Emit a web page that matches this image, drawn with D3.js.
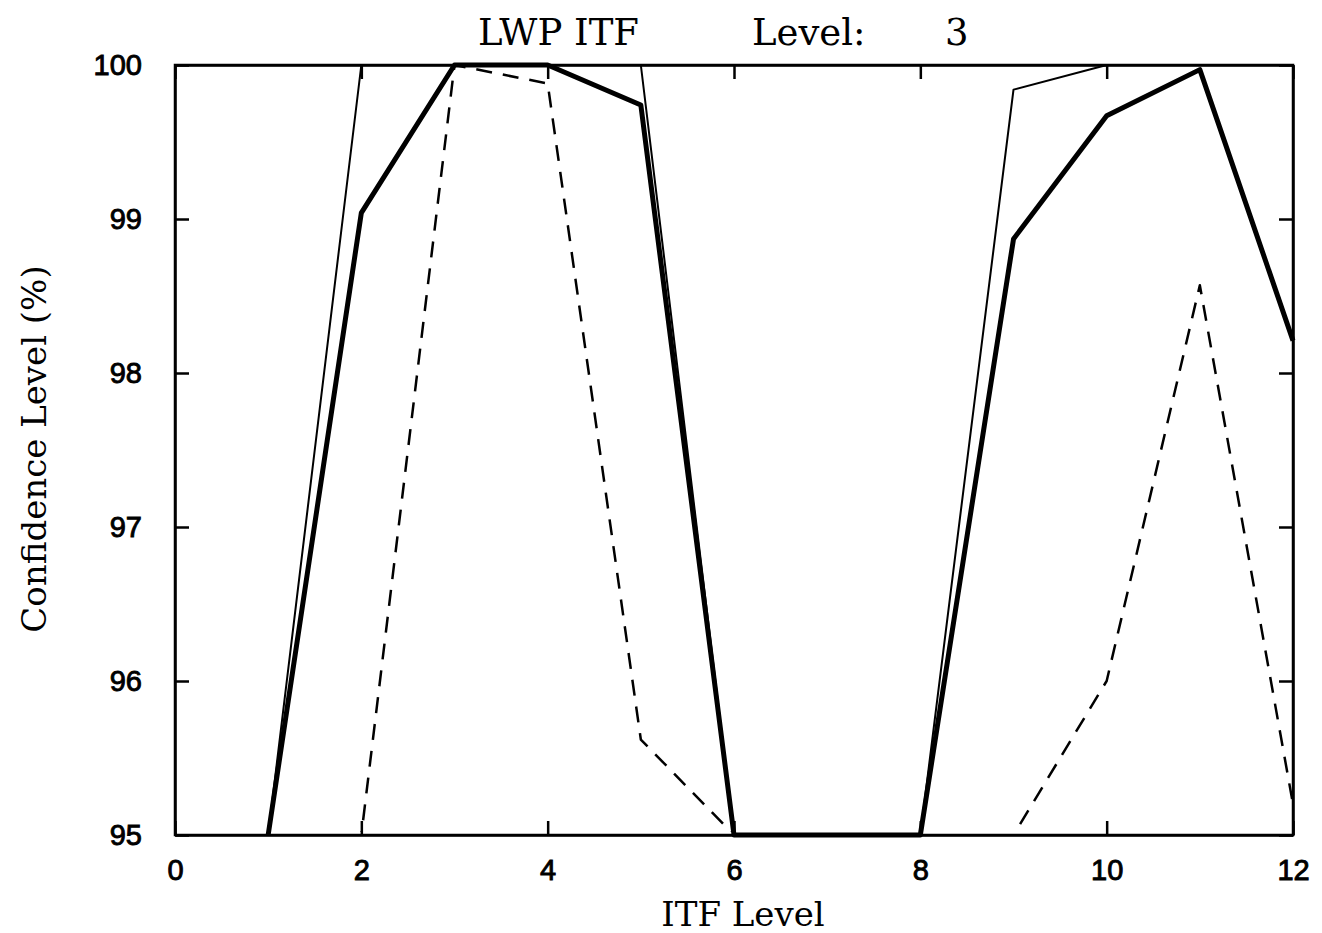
<!DOCTYPE html>
<meta charset="utf-8">
<style>
body { margin: 0; background: #fff; }
.axis path, .axis line { fill: none; stroke: #000; stroke-width: 2.5; }
.axis text { font: 29px "Liberation Sans", sans-serif; fill: #000; stroke: #000; stroke-width: 0.9; }
.title, .label { font-family: "DejaVu Serif", "Liberation Serif", serif; fill: #000; }
.line { fill: none; stroke: #000; stroke-linejoin: round; }
</style>
<body>
<script src="https://cdnjs.cloudflare.com/ajax/libs/d3/7.8.5/d3.min.js"></script>
<script>

// ITF levels on the x axis
var levels = [1, 2, 3, 4, 5, 6, 7, 8, 9, 10, 11, 12];

// confidence levels (%), values at the floor drawn at 95
var thinSeries   = [95, 100, 100, 100, 100, 95, 95, 95, 99.84, 100, 100, 100];
var thickSeries  = [95, 99.04, 100, 100, 99.74, 95, 95, 95, 98.87, 99.67, 99.97, 98.21];
var dashedSeries = [95, 95, 100, 99.88, 95.62, 95, 95, 95, 95, 96.0, 98.57, 95.2];

var xTicks = [0, 2, 4, 6, 8, 10, 12];
var yTicks = [95, 96, 97, 98, 99, 100];

var titleParts = ["LWP ITF", "Level:", "3"];

var margin = {top: 65, right: 29, bottom: 98, left: 175},
    width = 1322 - margin.left - margin.right,
    height = 933 - margin.top - margin.bottom;

var x = d3.scaleLinear().domain([0, 12]).range([0, width]);
var y = d3.scaleLinear().domain([95, 100]).range([height, 0]);

var svg = d3.select("body").append("svg")
    .attr("width", 1322)
    .attr("height", 933);

var g = svg.append("g")
    .attr("transform", "translate(" + margin.left + "," + margin.top + ")");

g.append("clipPath").attr("id", "clip")
  .append("rect").attr("width", width).attr("height", height - 3);

var line = d3.line()
    .x(function(d) { return x(d[0]); })
    .y(function(d) { return y(Math.max(95, Math.min(100, d[1]))); });

function pairs(vals) { return levels.map(function(l, i) { return [l, vals[i]]; }); }

g.append("path").attr("class", "line").attr("clip-path", "url(#clip)")
    .attr("d", line(pairs(dashedSeries)))
    .attr("stroke-width", 2.5)
    .attr("stroke-dasharray", "16,11");

g.append("path").attr("class", "line")
    .attr("d", line(pairs(thinSeries)))
    .attr("stroke-width", 2);

g.append("path").attr("class", "line")
    .attr("d", line(pairs(thickSeries)))
    .attr("stroke-width", 5);

// axes with inward ticks on all four sides
g.append("g").attr("class", "axis")
    .attr("transform", "translate(0," + height + ")")
    .call(d3.axisBottom(x).tickValues(xTicks).tickSize(-14).tickSizeOuter(0).tickPadding(24));

g.append("g").attr("class", "axis")
    .call(d3.axisTop(x).tickValues(xTicks).tickSize(-14).tickSizeOuter(0).tickFormat(""));

g.append("g").attr("class", "axis")
    .call(d3.axisLeft(y).tickValues(yTicks).tickFormat(d3.format("d"))
      .tickSize(-14).tickSizeOuter(0).tickPadding(33));

g.append("g").attr("class", "axis")
    .attr("transform", "translate(" + width + ",0)")
    .call(d3.axisRight(y).tickValues(yTicks).tickSize(-14).tickSizeOuter(0).tickFormat(""));

g.append("rect")
    .attr("width", width).attr("height", height)
    .attr("fill", "none").attr("stroke", "#000").attr("stroke-width", 2.5);

// title words placed apart as in the original
var titleX = [478, 752, 945];
svg.append("text").attr("class", "title")
    .attr("y", 45)
    .style("font-size", "37px")
  .selectAll("tspan")
    .data(titleParts)
  .enter().append("tspan")
    .attr("x", function(d, i) { return titleX[i]; })
    .text(function(d) { return d; });

svg.append("text").attr("class", "label")
    .attr("x", 743).attr("y", 926)
    .attr("text-anchor", "middle")
    .style("font-size", "34px")
    .text("ITF Level");

svg.append("text").attr("class", "label")
    .attr("transform", "translate(46,449) rotate(-90)")
    .attr("text-anchor", "middle")
    .style("font-size", "34px")
    .text("Confidence Level (%)");

</script>
